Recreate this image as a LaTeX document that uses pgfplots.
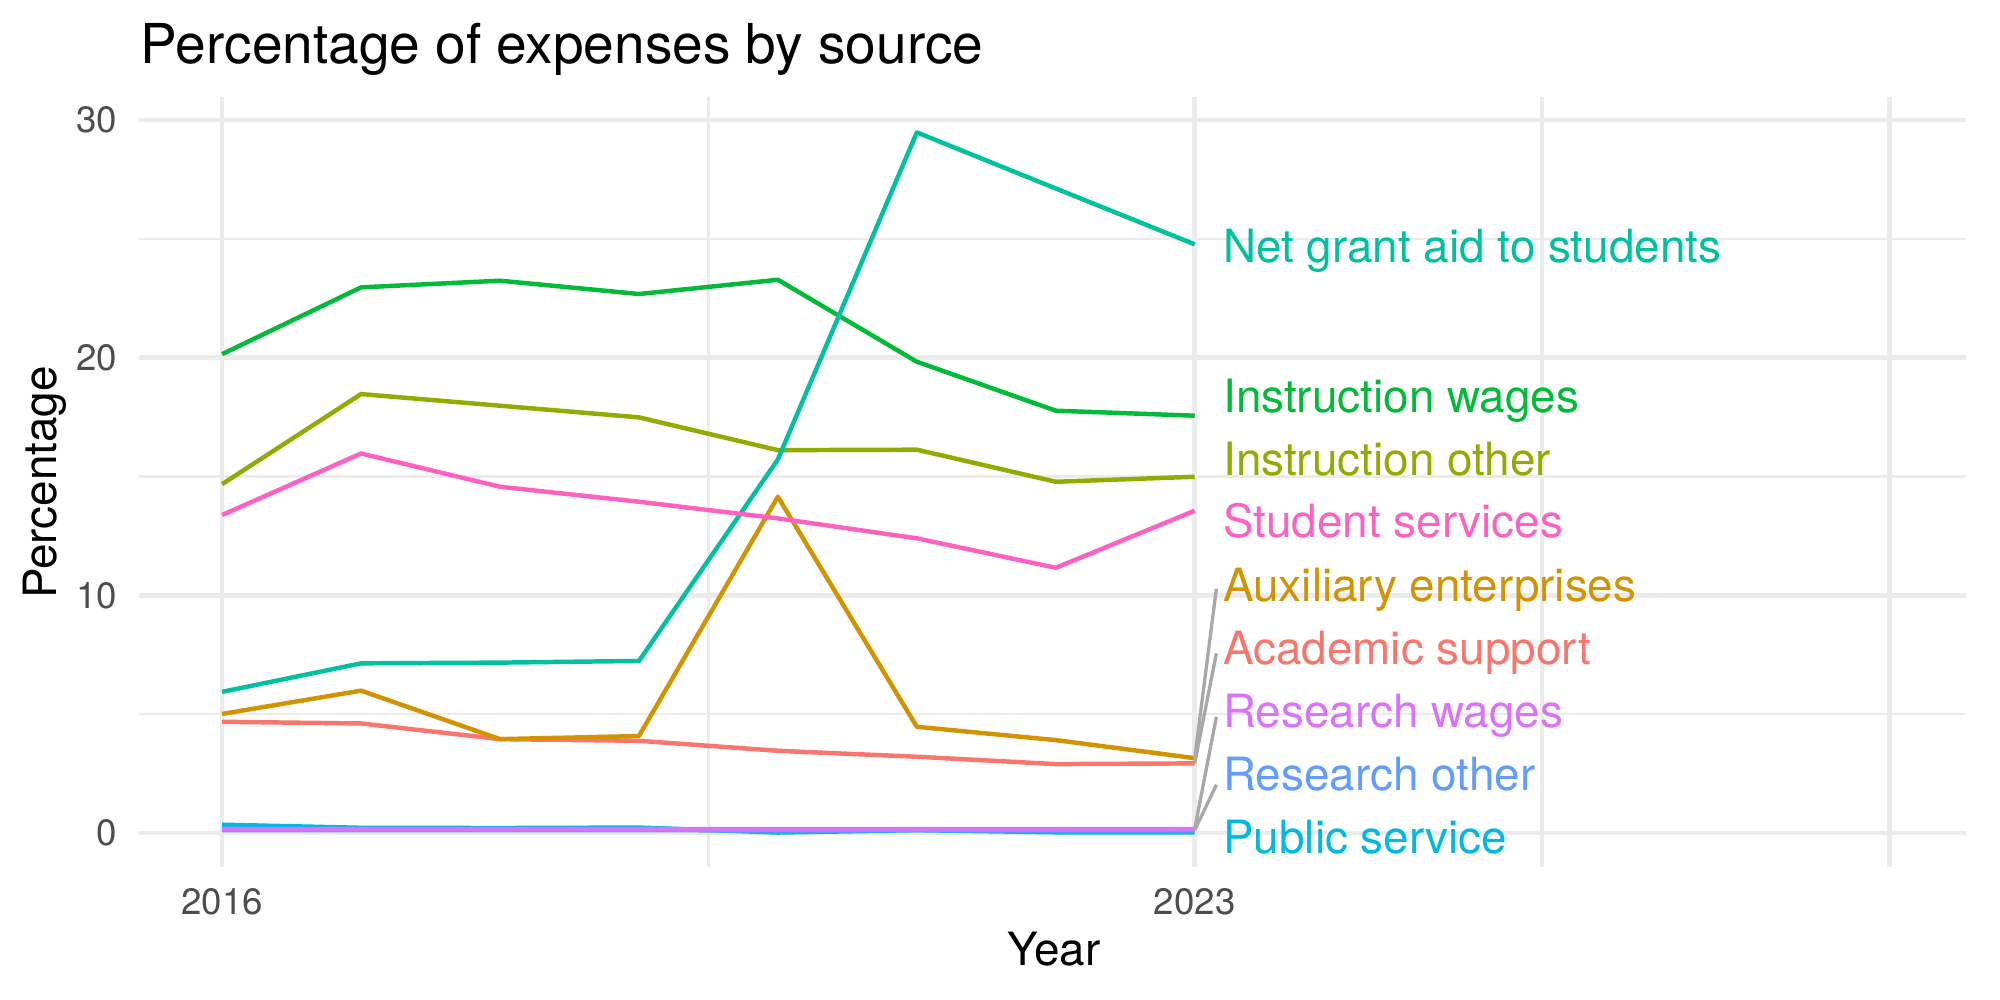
\documentclass[border=0pt]{standalone}
\usepackage{pgfplots}
\pgfplotsset{compat=1.18}
\usepackage{fontspec}
\setmainfont{TeX Gyre Heros}

% hue palette, one colour per source
\definecolor{cAcad}{HTML}{F8766D}
\definecolor{cAux}{HTML}{D39200}
\definecolor{cInsO}{HTML}{93AA00}
\definecolor{cInsW}{HTML}{00BA38}
\definecolor{cNet}{HTML}{00C19F}
\definecolor{cPub}{HTML}{00B9E3}
\definecolor{cResO}{HTML}{619CFF}
\definecolor{cResW}{HTML}{DB72FB}
\definecolor{cStu}{HTML}{FF61C3}
\definecolor{gridgrey}{HTML}{EBEBEB}
\definecolor{ticktext}{HTML}{4D4D4D}
\definecolor{seggrey}{HTML}{A8A8A8}

\tikzset{lbl/.style={anchor=base west, inner sep=0pt, font=\fontsize{11}{13}\selectfont}}

\begin{document}
\begin{tikzpicture}
\useasboundingbox (0,0) rectangle (480pt,240pt);

\node[anchor=base west, inner sep=0pt, font=\fontsize{13.2}{15}\selectfont] at (33.6pt,224.7pt) {Percentage of expenses by source};

\begin{axis}[
  at={(33.3pt,31.8pt)}, anchor=south west,
  scale only axis, width=438.5pt, height=184.8pt,
  xmin=2015.4, xmax=2028.55, ymin=-1.45, ymax=30.95,
  axis line style={draw=none},
  major tick length=0pt, minor tick length=0pt,
  tick style={draw=none},
  xtick={2016,2023,2025.5,2028}, xticklabels={2016,2023,,},
  minor xtick={2019.5},
  ytick={0,10,20,30}, yticklabels={0,10,20,30},
  minor ytick={5,15,25},
  grid=both,
  major grid style={draw=gridgrey, line width=1.07pt},
  minor grid style={draw=gridgrey, line width=0.53pt},
  xticklabel style={font=\fontsize{8.8}{10}\selectfont, text=ticktext, anchor=north, inner sep=0pt, yshift=-4.95pt},
  yticklabel style={font=\fontsize{8.8}{10}\selectfont, text=ticktext, anchor=east, inner sep=0pt, xshift=-4.95pt},
  clip=false,
  every axis plot/.append style={line width=1.07pt, line join=round, mark=none},
]
% Academic support
\addplot[cAcad] coordinates {(2016,4.68) (2017,4.61) (2018,3.95) (2019,3.88) (2020,3.46) (2021,3.21) (2022,2.90) (2023,2.93)};
% Auxiliary enterprises
\addplot[cAux] coordinates {(2016,5.01) (2017,5.99) (2018,3.95) (2019,4.08) (2020,14.15) (2021,4.47) (2022,3.91) (2023,3.15)};
% Instruction other
\addplot[cInsO] coordinates {(2016,14.68) (2017,18.47) (2018,17.98) (2019,17.49) (2020,16.11) (2021,16.13) (2022,14.78) (2023,14.99)};
% Instruction wages
\addplot[cInsW] coordinates {(2016,20.15) (2017,22.96) (2018,23.24) (2019,22.68) (2020,23.28) (2021,19.83) (2022,17.77) (2023,17.56)};
% Net grant aid to students
\addplot[cNet] coordinates {(2016,5.94) (2017,7.14) (2018,7.17) (2019,7.24) (2020,15.72) (2021,29.48) (2022,27.12) (2023,24.77)};
% Public service
\addplot[cPub] coordinates {(2016,0.35) (2017,0.22) (2018,0.21) (2019,0.23) (2020,0.02) (2021,0.12) (2022,0.03) (2023,0.03)};
% Research other
\addplot[cResO] coordinates {(2016,0.12) (2017,0.12) (2018,0.12) (2019,0.12) (2020,0.11) (2021,0.12) (2022,0.11) (2023,0.11)};
% Research wages
\addplot[cResW] coordinates {(2016,0.17) (2017,0.16) (2018,0.16) (2019,0.16) (2020,0.16) (2021,0.16) (2022,0.16) (2023,0.17)};
% Student services
\addplot[cStu] coordinates {(2016,13.38) (2017,15.97) (2018,14.57) (2019,13.94) (2020,13.24) (2021,12.40) (2022,11.16) (2023,13.56)};

% leader segments from the last point to the repelled labels
\addplot[seggrey, line width=0.8pt] coordinates {(2023,3.15) (2023.156,10.28)};
\addplot[seggrey, line width=0.8pt] coordinates {(2023,2.93) (2023.156,7.56)};
\addplot[seggrey, line width=0.8pt] coordinates {(2023,0.17) (2023.156,4.89)};
\addplot[seggrey, line width=0.8pt] coordinates {(2023,0.12) (2023.156,2.03)};

% end-of-line labels
\node[lbl, text=cNet]  at (axis cs:2023.2,23.99) {Net grant aid to students};
\node[lbl, text=cInsW] at (axis cs:2023.2,17.70) {Instruction wages};
\node[lbl, text=cInsO] at (axis cs:2023.2,15.06) {Instruction other};
\node[lbl, text=cStu]  at (axis cs:2023.2,12.42) {Student services};
\node[lbl, text=cAux]  at (axis cs:2023.2,9.76)  {Auxiliary enterprises};
\node[lbl, text=cAcad] at (axis cs:2023.2,7.10)  {Academic support};
\node[lbl, text=cResW] at (axis cs:2023.2,4.46)  {Research wages};
\node[lbl, text=cResO] at (axis cs:2023.2,1.80)  {Research other};
\node[lbl, text=cPub]  at (axis cs:2023.2,-0.86) {Public service};
\end{axis}

% axis titles
\node[anchor=base, inner sep=0pt, font=\fontsize{11}{13}\selectfont] at (253pt,8.2pt) {Year};
\node[anchor=base, rotate=90, inner sep=0pt, font=\fontsize{11}{13}\selectfont] at (13.6pt,124.2pt) {Percentage};
\end{tikzpicture}
\end{document}
